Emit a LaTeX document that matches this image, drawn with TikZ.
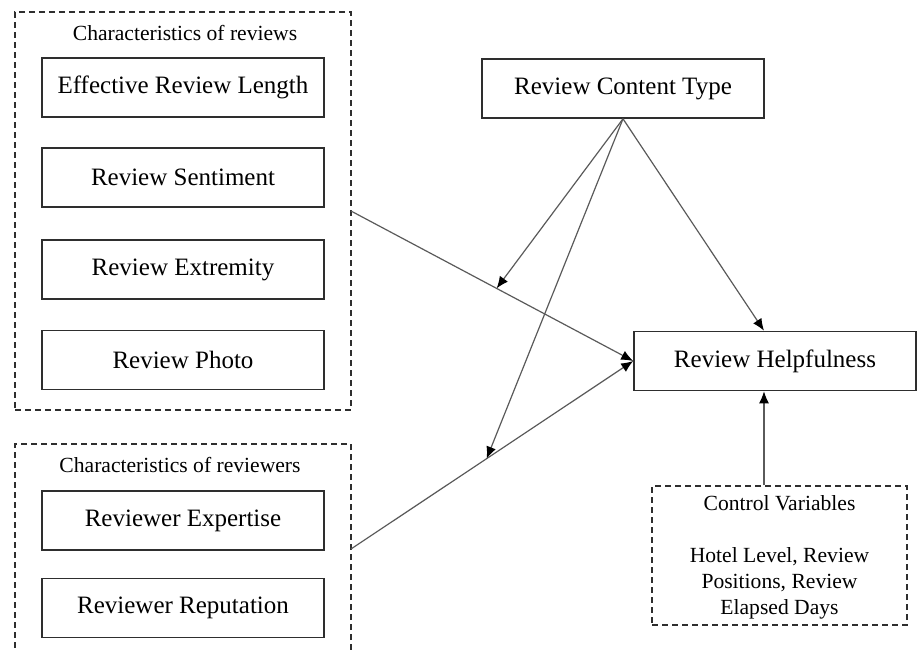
\documentclass[tikz,border=0pt]{standalone}
\usepackage{fontspec}
\setmainfont{Liberation Serif}
\usetikzlibrary{arrows.meta,calc}
\definecolor{linegray}{HTML}{5A5A5A}
\definecolor{boxline}{HTML}{2E2E2E}
\tikzset{
  varbox/.style={draw=boxline, line width=0.8pt, fill=white, minimum width=141pt, minimum height=29.5pt,
    inner sep=0pt, font=\fontsize{12.5}{15}\selectfont},
  groupbox/.style={draw=boxline, line width=0.7pt, dash pattern=on 3pt off 2pt, inner sep=0pt},
  grouptitle/.style={font=\fontsize{10.8}{13}\selectfont, inner sep=0pt},
  conn/.style={draw=linegray, line width=0.6pt},
  arr/.style={conn, -{Latex[length=6pt,width=5pt,color=black]}}
}
\begin{document}
\begin{tikzpicture}[x=0.5pt,y=-0.5pt]
\useasboundingbox (0,0) rectangle (917,649);
% group 1
\node[groupbox, minimum width=168pt, minimum height=199pt] (g1) at (183,211) {};
\node[grouptitle] (t1) at (185,33) {Characteristics of reviews};
\node[varbox] (erl) at (183,87.5) {Effective Review Length};
\node[varbox] (sent) at (183,177.5) {Review Sentiment};
\node[varbox] (ext) at (183,269.5) {Review Extremity};
\node[varbox] (photo) at (183,360) {Review Photo};
% group 2 (extends past bottom edge)
\begin{scope}
\clip (0,0) rectangle (917,649);
\node[groupbox, minimum width=168pt, minimum height=140pt] (g2) at (183,584) {};
\end{scope}
\node[grouptitle] (t2) at (180,465) {Characteristics of reviewers};
\node[varbox] (expert) at (183,520.5) {Reviewer Expertise};
\node[varbox] (reput) at (183,608) {Reviewer Reputation};
% right side
\node[varbox] (rct) at (623,88.5) {Review Content Type};
\node[varbox] (rh) at (775,361) {Review Helpfulness};
\node[groupbox, minimum width=127.5pt, minimum height=69.5pt] (cv) at (779.5,555.5) {};
\node[align=center, inner sep=0pt, font=\fontsize{10.8}{13}\selectfont] (cvt) at (779.5,557)
  {Control Variables\\[13pt]Hotel Level, Review\\Positions, Review\\Elapsed Days};
% connectors
\coordinate (s1) at (351,211);
\coordinate (s2) at (351,549);
\coordinate (m1) at ($(s1)!0.516!(rh.west)$);
\coordinate (m2) at ($(s2)!0.4806!(rh.west)$);
\coordinate (rhtop) at ([xshift=-5.5pt]rh.north);
\coordinate (cvtop) at ([xshift=-7.75pt]cv.north);
\draw[arr] (s1) -- (rh.west);
\draw[arr] (s2) -- (rh.west);
\draw[arr] (rct.south) -- (m1);
\draw[arr] (rct.south) -- (m2);
\draw[arr] (rct.south) -- (rhtop);
\draw[arr] (cvtop) -- (cvtop |- rh.south);
\end{tikzpicture}
\end{document}
